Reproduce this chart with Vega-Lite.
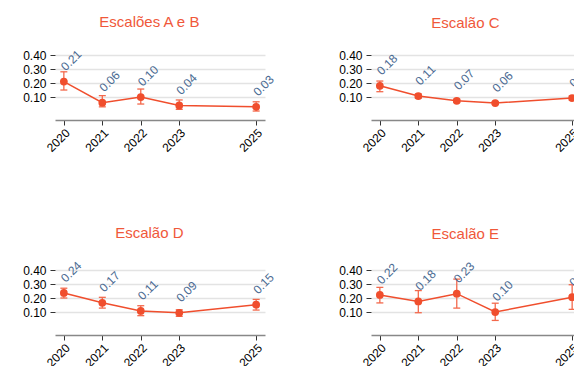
{
  "$schema": "https://vega.github.io/schema/vega-lite/v6.json",
  "padding": {"left": 22, "top": 14, "right": 5, "bottom": 5},
  "background": "white",
  "spacing": {"row": 72, "column": 61},
  "config": {
    "font": "Liberation Sans",
    "view": {"stroke": null},
    "title": {"color": "#f0583a", "fontSize": 15, "fontWeight": "normal", "anchor": "middle", "frame": "bounds", "offset": 18}
  },
  "data": {"values": [
    {"group": "Escalões A e B", "year": 2020, "value": 0.21, "lower": 0.15, "upper": 0.28},
    {"group": "Escalões A e B", "year": 2021, "value": 0.06, "lower": 0.03, "upper": 0.11},
    {"group": "Escalões A e B", "year": 2022, "value": 0.10, "lower": 0.05, "upper": 0.157},
    {"group": "Escalões A e B", "year": 2023, "value": 0.04, "lower": 0.012, "upper": 0.079},
    {"group": "Escalões A e B", "year": 2025, "value": 0.03, "lower": 0.0, "upper": 0.066},
    {"group": "Escalão C", "year": 2020, "value": 0.18, "lower": 0.138, "upper": 0.214},
    {"group": "Escalão C", "year": 2021, "value": 0.107, "lower": 0.092, "upper": 0.122},
    {"group": "Escalão C", "year": 2022, "value": 0.073, "lower": 0.061, "upper": 0.085},
    {"group": "Escalão C", "year": 2023, "value": 0.057, "lower": 0.047, "upper": 0.067},
    {"group": "Escalão C", "year": 2025, "value": 0.093, "lower": 0.078, "upper": 0.108},
    {"group": "Escalão D", "year": 2020, "value": 0.236, "lower": 0.20, "upper": 0.27},
    {"group": "Escalão D", "year": 2021, "value": 0.166, "lower": 0.128, "upper": 0.205},
    {"group": "Escalão D", "year": 2022, "value": 0.108, "lower": 0.074, "upper": 0.145},
    {"group": "Escalão D", "year": 2023, "value": 0.094, "lower": 0.069, "upper": 0.116},
    {"group": "Escalão D", "year": 2025, "value": 0.152, "lower": 0.114, "upper": 0.19},
    {"group": "Escalão E", "year": 2020, "value": 0.222, "lower": 0.165, "upper": 0.276},
    {"group": "Escalão E", "year": 2021, "value": 0.176, "lower": 0.095, "upper": 0.253},
    {"group": "Escalão E", "year": 2022, "value": 0.231, "lower": 0.128, "upper": 0.335},
    {"group": "Escalão E", "year": 2023, "value": 0.10, "lower": 0.04, "upper": 0.163},
    {"group": "Escalão E", "year": 2025, "value": 0.206, "lower": 0.119, "upper": 0.295}
  ]},
  "columns": 2,
  "concat": [
    {
      "title": "Escalões A e B",
      "width": 210, "height": 65,
      "transform": [{"filter": "datum.group === 'Escalões A e B'"}],
      "encoding": {
        "x": {"field": "year", "type": "quantitative", "scale": {"domain": [2019.77, 2025.23], "nice": false, "zero": false},
          "axis": {"values": [2020, 2021, 2022, 2023, 2025], "format": "d", "title": null, "labelAngle": -45, "labelFontSize": 12, "labelColor": "#000", "domainColor": "#888", "domainWidth": 1.5, "tickColor": "#333", "tickSize": 5, "grid": false, "labelPadding": 2}},
        "y": {"field": "value", "type": "quantitative", "scale": {"domain": [-0.064, 0.4], "nice": false, "zero": false},
          "axis": {"values": [0.1, 0.2, 0.3, 0.4], "format": ".2f", "title": null, "domain": false, "labelFontSize": 12, "labelColor": "#000", "tickColor": "#333", "tickSize": 5, "labelPadding": 4, "gridColor": "#e3e3e3", "gridWidth": 1.5}}
      },
      "layer": [
        {"mark": {"type": "errorbar", "ticks": {"size": 7, "color": "#f3694c", "opacity": 1}, "color": "#f3694c", "opacity": 1, "thickness": 1.3}, "encoding": {"y": {"field": "lower", "type": "quantitative"}, "y2": {"field": "upper"}}},
        {"mark": {"type": "line", "color": "#f04e2d", "strokeWidth": 1.5}},
        {"mark": {"type": "point", "filled": true, "opacity": 1, "color": "#f04e2d", "size": 60}},
        {"mark": {"type": "text", "angle": -45, "align": "left", "baseline": "alphabetic", "color": "#4a6a92", "fontSize": 12, "dx": 8.5, "dy": -5.7}, "encoding": {"text": {"field": "value", "type": "quantitative", "format": ".2f"}}}
      ]
    },
    {
      "title": "Escalão C",
      "width": 210, "height": 65,
      "transform": [{"filter": "datum.group === 'Escalão C'"}],
      "encoding": {
        "x": {"field": "year", "type": "quantitative", "scale": {"domain": [2019.77, 2025.23], "nice": false, "zero": false},
          "axis": {"values": [2020, 2021, 2022, 2023, 2025], "format": "d", "title": null, "labelAngle": -45, "labelFontSize": 12, "labelColor": "#000", "domainColor": "#888", "domainWidth": 1.5, "tickColor": "#333", "tickSize": 5, "grid": false, "labelPadding": 2}},
        "y": {"field": "value", "type": "quantitative", "scale": {"domain": [-0.064, 0.4], "nice": false, "zero": false},
          "axis": {"values": [0.1, 0.2, 0.3, 0.4], "format": ".2f", "title": null, "domain": false, "labelFontSize": 12, "labelColor": "#000", "tickColor": "#333", "tickSize": 5, "labelPadding": 4, "gridColor": "#e3e3e3", "gridWidth": 1.5}}
      },
      "layer": [
        {"mark": {"type": "errorbar", "ticks": {"size": 7, "color": "#f3694c", "opacity": 1}, "color": "#f3694c", "opacity": 1, "thickness": 1.3}, "encoding": {"y": {"field": "lower", "type": "quantitative"}, "y2": {"field": "upper"}}},
        {"mark": {"type": "line", "color": "#f04e2d", "strokeWidth": 1.5}},
        {"mark": {"type": "point", "filled": true, "opacity": 1, "color": "#f04e2d", "size": 60}},
        {"mark": {"type": "text", "angle": -45, "align": "left", "baseline": "alphabetic", "color": "#4a6a92", "fontSize": 12, "dx": 8.5, "dy": -5.7}, "encoding": {"text": {"field": "value", "type": "quantitative", "format": ".2f"}}}
      ]
    },
    {
      "title": "Escalão D",
      "width": 210, "height": 65,
      "transform": [{"filter": "datum.group === 'Escalão D'"}],
      "encoding": {
        "x": {"field": "year", "type": "quantitative", "scale": {"domain": [2019.77, 2025.23], "nice": false, "zero": false},
          "axis": {"values": [2020, 2021, 2022, 2023, 2025], "format": "d", "title": null, "labelAngle": -45, "labelFontSize": 12, "labelColor": "#000", "domainColor": "#888", "domainWidth": 1.5, "tickColor": "#333", "tickSize": 5, "grid": false, "labelPadding": 2}},
        "y": {"field": "value", "type": "quantitative", "scale": {"domain": [-0.064, 0.4], "nice": false, "zero": false},
          "axis": {"values": [0.1, 0.2, 0.3, 0.4], "format": ".2f", "title": null, "domain": false, "labelFontSize": 12, "labelColor": "#000", "tickColor": "#333", "tickSize": 5, "labelPadding": 4, "gridColor": "#e3e3e3", "gridWidth": 1.5}}
      },
      "layer": [
        {"mark": {"type": "errorbar", "ticks": {"size": 7, "color": "#f3694c", "opacity": 1}, "color": "#f3694c", "opacity": 1, "thickness": 1.3}, "encoding": {"y": {"field": "lower", "type": "quantitative"}, "y2": {"field": "upper"}}},
        {"mark": {"type": "line", "color": "#f04e2d", "strokeWidth": 1.5}},
        {"mark": {"type": "point", "filled": true, "opacity": 1, "color": "#f04e2d", "size": 60}},
        {"mark": {"type": "text", "angle": -45, "align": "left", "baseline": "alphabetic", "color": "#4a6a92", "fontSize": 12, "dx": 8.5, "dy": -5.7}, "encoding": {"text": {"field": "value", "type": "quantitative", "format": ".2f"}}}
      ]
    },
    {
      "title": "Escalão E",
      "width": 210, "height": 65,
      "transform": [{"filter": "datum.group === 'Escalão E'"}],
      "encoding": {
        "x": {"field": "year", "type": "quantitative", "scale": {"domain": [2019.77, 2025.23], "nice": false, "zero": false},
          "axis": {"values": [2020, 2021, 2022, 2023, 2025], "format": "d", "title": null, "labelAngle": -45, "labelFontSize": 12, "labelColor": "#000", "domainColor": "#888", "domainWidth": 1.5, "tickColor": "#333", "tickSize": 5, "grid": false, "labelPadding": 2}},
        "y": {"field": "value", "type": "quantitative", "scale": {"domain": [-0.064, 0.4], "nice": false, "zero": false},
          "axis": {"values": [0.1, 0.2, 0.3, 0.4], "format": ".2f", "title": null, "domain": false, "labelFontSize": 12, "labelColor": "#000", "tickColor": "#333", "tickSize": 5, "labelPadding": 4, "gridColor": "#e3e3e3", "gridWidth": 1.5}}
      },
      "layer": [
        {"mark": {"type": "errorbar", "ticks": {"size": 7, "color": "#f3694c", "opacity": 1}, "color": "#f3694c", "opacity": 1, "thickness": 1.3}, "encoding": {"y": {"field": "lower", "type": "quantitative"}, "y2": {"field": "upper"}}},
        {"mark": {"type": "line", "color": "#f04e2d", "strokeWidth": 1.5}},
        {"mark": {"type": "point", "filled": true, "opacity": 1, "color": "#f04e2d", "size": 60}},
        {"mark": {"type": "text", "angle": -45, "align": "left", "baseline": "alphabetic", "color": "#4a6a92", "fontSize": 12, "dx": 8.5, "dy": -5.7}, "encoding": {"text": {"field": "value", "type": "quantitative", "format": ".2f"}}}
      ]
    }
  ]
}
